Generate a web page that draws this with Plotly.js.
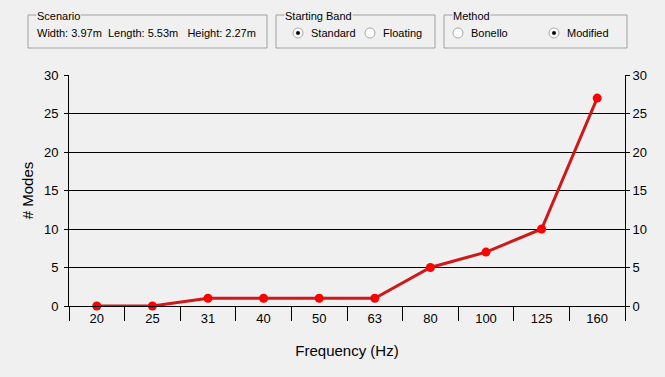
<!DOCTYPE html>
<html><head><meta charset="utf-8">
<script src="https://cdn.plot.ly/plotly-3.0.1.min.js"></script>
<style>html,body{margin:0;padding:0;background:#f0f0f0;}#chart{width:665px;height:377px;}</style>
</head><body><div id="chart"></div>
<script>
const frequencies = ["20","25","31","40","50","63","80","100","125","160"];
const modes = [0,0,1,1,1,1,5,7,10,27];
const yTicks = [0,5,10,15,20,25,30];

const L=69,R=625,T=75,B=306;
const px = x => (x-L)/(R-L);
const py = y => (B-y)/(B-T);
const uiFont = {family:"Liberation Sans, Arial", size:11, color:"#000"};

const shapes = [];
const annotations = [];
function box(x0,x1,y0,y1,title,tx){
  shapes.push({type:"rect",xref:"paper",yref:"paper",x0:px(x0),x1:px(x1),y0:py(y1),y1:py(y0),line:{color:"#a0a0a0",width:1},layer:"above"});
  annotations.push({xref:"paper",yref:"paper",x:px(tx),y:py(16),xanchor:"left",yanchor:"middle",text:title,showarrow:false,bgcolor:"#f0f0f0",font:uiFont,borderpad:0});
}
function text(x,t){
  annotations.push({xref:"paper",yref:"paper",x:px(x),y:py(33),xanchor:"left",yanchor:"middle",text:t,showarrow:false,font:uiFont});
}
function radio(x,checked){
  shapes.push({type:"circle",xref:"paper",yref:"paper",x0:px(x-5),x1:px(x+5),y0:py(33+5),y1:py(33-5),line:{color:"#a8a8a8",width:1},fillcolor:"#ffffff",layer:"above"});
  if(checked) shapes.push({type:"circle",xref:"paper",yref:"paper",x0:px(x-1.8),x1:px(x+1.8),y0:py(33+1.8),y1:py(33-1.8),line:{color:"#000",width:0.5},fillcolor:"#000",layer:"above"});
}
box(28,267,15,48,"Scenario",36);
text(35,"Width: 3.97m&nbsp; Length: 5.53m&nbsp;&nbsp; Height: 2.27m");
box(276,435,15,48,"Starting Band",284);
radio(298,true); text(309,"Standard");
radio(370,false); text(381,"Floating");
box(444,627,15,48,"Method",452);
radio(458,false); text(469,"Bonello");
radio(554,true); text(565,"Modified");

const tickFont = {family:"Liberation Sans, Arial", size:13, color:"#000"};
const titleFont = {family:"Liberation Sans, Arial", size:15, color:"#000"};
const data = [
  {x:frequencies, y:modes, type:"scatter", mode:"lines+markers",
   line:{color:"#cc1a1a", width:3}, marker:{color:"#ff0000", size:9}, hoverinfo:"none", cliponaxis:false},
  {x:frequencies, y:modes, yaxis:"y2", type:"scatter", mode:"none", hoverinfo:"none", showlegend:false}
];
const layout = {
  width:665, height:377,
  margin:{l:L, r:665-R, t:T, b:377-B, pad:0},
  paper_bgcolor:"#f0f0f0", plot_bgcolor:"#f0f0f0",
  showlegend:false,
  xaxis:{type:"category", range:[-0.5,9.5], tickson:"boundaries", ticks:"outside", ticklen:14, tickcolor:"#000", tickwidth:1,
    showgrid:false, showline:true, linecolor:"#000", linewidth:1, tickfont:tickFont, zeroline:false,
    title:{text:"Frequency (Hz)", font:titleFont, standoff:20}, fixedrange:true},
  yaxis:{range:[0,30], tickvals:yTicks, ticks:"outside", ticklen:4, tickcolor:"#000", showgrid:true, gridcolor:"#000", gridwidth:1,
    showline:true, linecolor:"#000", zeroline:false, tickfont:tickFont, ticklabelstandoff:3,
    title:{text:"# Modes", font:titleFont, standoff:6}, fixedrange:true},
  yaxis2:{range:[0,30], tickvals:yTicks, overlaying:"y", side:"right", ticks:"outside", ticklen:4, tickcolor:"#000",
    showgrid:false, showline:true, linecolor:"#000", zeroline:false, tickfont:tickFont, fixedrange:true},
  shapes:shapes, annotations:annotations
};
Plotly.newPlot("chart", data, layout, {displayModeBar:false, staticPlot:true});
</script></body></html>
